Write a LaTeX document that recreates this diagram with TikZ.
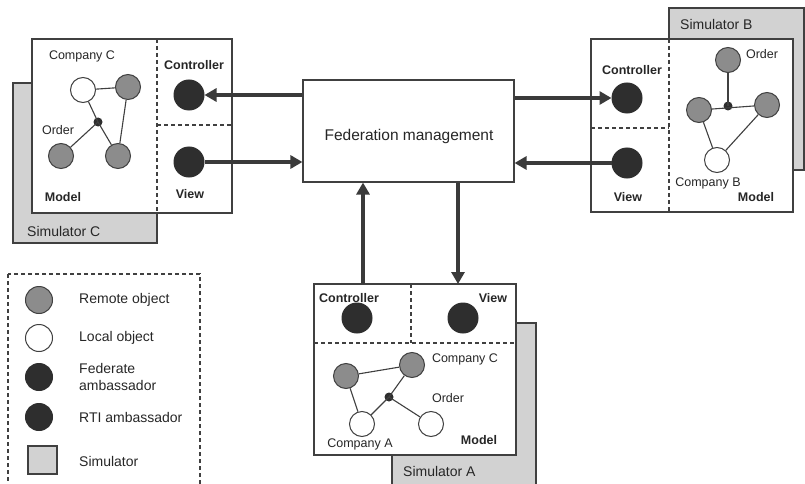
\documentclass[tikz,border=0pt]{standalone}
\usepackage{fontspec}
\setmainfont{Liberation Sans}
\usetikzlibrary{arrows.meta}
\definecolor{ln}{HTML}{404040}
\definecolor{simgray}{HTML}{D2D2D2}
\definecolor{remgray}{HTML}{8C8C8C}
\definecolor{ambcol}{HTML}{2E2E2E}
\definecolor{arrcol}{HTML}{3A3A3A}
\tikzset{
  box/.style={rectangle, draw=ln, line width=1.1pt, fill=white, inner sep=0},
  simbox/.style={rectangle, draw=ln, line width=1.1pt, fill=simgray, inner sep=0},
  dsh/.style={draw=ln, line width=1.1pt, dash pattern=on 4pt off 3pt},
  remote/.style={circle, draw=ln, fill=remgray, line width=1pt, minimum size=25pt, inner sep=0},
  local/.style={circle, draw=ln, fill=white, line width=1pt, minimum size=25pt, inner sep=0},
  amb/.style={circle, draw=ambcol, fill=ambcol, line width=1pt, minimum size=30pt, inner sep=0},
  dotn/.style={circle, fill=ambcol, minimum size=9pt, inner sep=0},
  edge/.style={draw=ln, line width=1.1pt},
  arr/.style={draw=arrcol, line width=3.6pt, -{Triangle[length=12pt,width=13pt]}},
  lbl/.style={font=\fontsize{12.5}{14}\selectfont, inner sep=0, text=black!85},
  blbl/.style={font=\bfseries\fontsize{12.5}{14}\selectfont, inner sep=0, text=black!85},
  simlbl/.style={font=\fontsize{14}{16}\selectfont, inner sep=0, anchor=west, text=black!85},
  leglbl/.style={font=\fontsize{14}{16.5}\selectfont, inner sep=0, anchor=west, align=left, text=black!85}
}
\begin{document}
\begin{tikzpicture}[x=1pt,y=-1pt]
\useasboundingbox (0,0) rectangle (805,484);
\clip (0,0) rectangle (805,484);

% ---------- Federation management ----------
\node[box, minimum width=211pt, minimum height=102pt] (fed) at (408.5,131) {};
\node[font=\fontsize{15.5}{18}\selectfont, text=black!85] (fedl) at (409,136) {Federation management};

% ---------- Simulator C ----------
\node[simbox, minimum width=144pt, minimum height=160pt] (simC) at (85,163) {};
\node[simlbl] (simCl) at (27,231) {Simulator C};
\node[box, minimum width=200pt, minimum height=174pt] (boxC) at (132,126) {};
\draw[dsh] (157,39) -- (157,213);
\draw[dsh] (157,125) -- (232,125);
\node[blbl] (ctrlCl) at (194,65) {Controller};
\node[blbl] (viewCl) at (190,194) {View};
\node[blbl] (modCl) at (63,197) {Model};
\node[lbl] (compCl) at (82,56) {Company C};
\node[lbl] (ordCl) at (58,130) {Order};
\node[amb] (ctrlC) at (189,95) {};
\node[amb] (viewC) at (189,162) {};
\node[dotn] (dC) at (98,122) {};
\node[local] (wC) at (83,90) {};
\node[remote] (gC1) at (128,87) {};
\node[remote] (gC2) at (61,156) {};
\node[remote] (gC3) at (118,156) {};
\draw[edge] (wC) -- (gC1);
\draw[edge] (wC) -- (dC.center) -- (gC3);
\draw[edge] (dC.center) -- (gC2);
\draw[edge] (gC1) -- (gC3);

% ---------- Simulator B ----------
\node[simbox, minimum width=135pt, minimum height=162pt] (simB) at (736.5,89) {};
\node[simlbl] (simBl) at (680,24) {Simulator B};
\node[box, minimum width=202pt, minimum height=173pt] (boxB) at (692,125.5) {};
\draw[dsh] (669,39) -- (669,212);
\draw[dsh] (591,128) -- (669,128);
\node[blbl] (ctrlBl) at (632,70) {Controller};
\node[blbl] (viewBl) at (628,197) {View};
\node[blbl] (modBl) at (756,197) {Model};
\node[lbl] (ordBl) at (762,54) {Order};
\node[lbl] (compBl) at (708,183) {Company B};
\node[amb] (ctrlB) at (627,98) {};
\node[amb] (viewB) at (627,163) {};
\node[dotn] (dB) at (728,106) {};
\node[remote] (gB0) at (728,60) {};
\node[remote] (gB1) at (699,110) {};
\node[remote] (gB2) at (767,105) {};
\node[local] (wB) at (717,160) {};
\draw[edge] (gB0) -- (dB.center);
\draw[edge] (gB1) -- (gB2);
\draw[edge] (gB1) -- (wB);
\draw[edge] (gB2) -- (wB);

% ---------- Simulator A ----------
\node[simbox, minimum width=144pt, minimum height=177pt] (simA) at (464,411.5) {};
\node[simlbl] (simAl) at (403,471) {Simulator A};
\node[box, minimum width=202pt, minimum height=171pt] (boxA) at (415,369.5) {};
\draw[dsh] (411,284) -- (411,343);
\draw[dsh] (314,343) -- (516,343);
\node[blbl] (ctrlAl) at (349,298) {Controller};
\node[blbl] (viewAl) at (493,298) {View};
\node[blbl] (modAl) at (479,440) {Model};
\node[lbl] (compAl) at (465,359) {Company C};
\node[lbl] (ordAl) at (448,398) {Order};
\node[lbl] (compAAl) at (360,444) {Company A};
\node[amb] (ctrlA) at (357,318) {};
\node[amb] (viewA) at (463,318) {};
\node[dotn] (dA) at (389,397) {};
\node[remote] (gA1) at (346,376) {};
\node[remote] (gA2) at (412,365) {};
\node[local] (wA1) at (362,424) {};
\node[local] (wA2) at (431,424) {};
\draw[edge] (gA1) -- (gA2);
\draw[edge] (gA1) -- (wA1);
\draw[edge] (wA1) -- (dA.center) -- (gA2);
\draw[edge] (dA.center) -- (wA2);

% ---------- Connectors ----------
\draw[arr] (fed.west |- ctrlC) -- (ctrlC);
\draw[arr] (viewC) -- (fed.west |- viewC);
\draw[arr] (fed.east |- ctrlB) -- (ctrlB);
\draw[arr] (viewB) -- (fed.east |- viewB);
\coordinate (aUp) at (363,284);
\coordinate (aDn) at (458,284);
\draw[arr] (aUp) -- (fed.south -| aUp);
\draw[arr] (fed.south -| aDn) -- (aDn);

% ---------- Legend ----------
\draw[dsh] (8,274) rectangle (200,500);
\node[remote, minimum size=27pt] (lg1) at (39,300) {};
\node[local, minimum size=27pt] (lg2) at (39,338) {};
\node[amb, minimum size=27pt] (lg3) at (39,377) {};
\node[amb, minimum size=27pt] (lg4) at (39,417) {};
\node[simbox, minimum width=29pt, minimum height=28pt] (lg5) at (42.5,460) {};
\node[leglbl] (lt1) at (79,300) {Remote object};
\node[leglbl] (lt2) at (79,338) {Local object};
\node[leglbl] (lt3) at (79,377) {Federate\\ambassador};
\node[leglbl] (lt4) at (79,417) {RTI ambassador};
\node[leglbl] (lt5) at (79,461) {Simulator};
\end{tikzpicture}
\end{document}
